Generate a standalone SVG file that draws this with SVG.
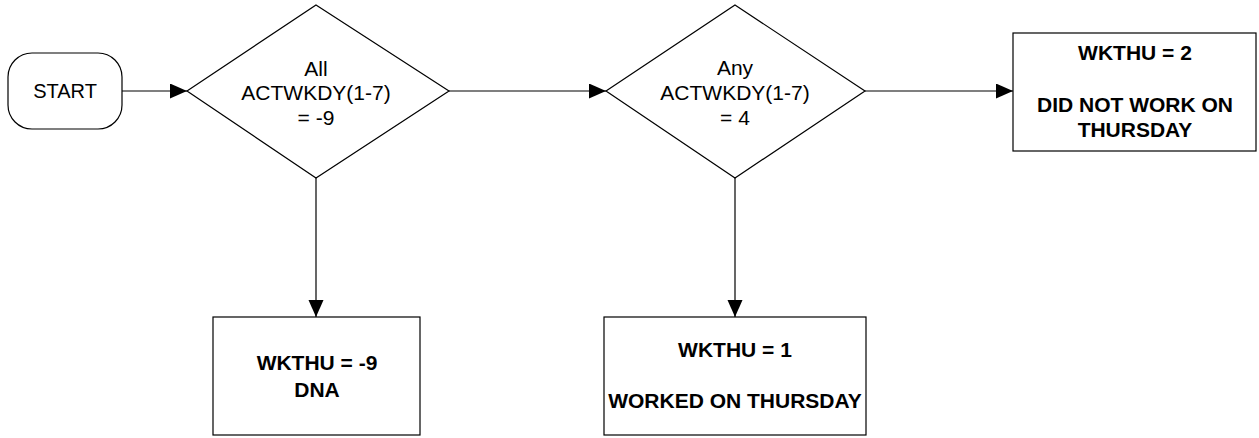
<svg xmlns="http://www.w3.org/2000/svg" width="1259" height="438" viewBox="0 0 1259 438">
<style>
.shape{fill:#fff;stroke:#000;stroke-width:1.2}
.conn{fill:none;stroke:#000;stroke-width:1.2}
.t{font-family:"Liberation Sans",Arial,sans-serif;font-size:21px;fill:#000;text-anchor:middle}
.b{font-weight:bold}
</style>
<defs>
<marker id="arr" markerUnits="userSpaceOnUse" markerWidth="18" markerHeight="16" refX="17" refY="7.5" orient="auto">
<path d="M0,0 L17,7.5 L0,15 Z" fill="#000"/>
</marker>
</defs>
<g id="connectors">
<line class="conn" x1="122" y1="91" x2="187" y2="91" marker-end="url(#arr)"/>
<line class="conn" x1="449" y1="91" x2="606" y2="91" marker-end="url(#arr)"/>
<line class="conn" x1="865" y1="91" x2="1013" y2="91" marker-end="url(#arr)"/>
<line class="conn" x1="316" y1="178" x2="316" y2="317" marker-end="url(#arr)"/>
<line class="conn" x1="735" y1="178" x2="735" y2="317" marker-end="url(#arr)"/>
</g>
<g id="start">
<rect class="shape" x="8" y="53" width="114" height="76" rx="24" ry="24"/>
<text class="t" x="65" y="98" style="font-size:20px">START</text>
</g>
<g id="decision1">
<polygon class="shape" points="316,5 449,91 316,178 187,91"/>
<text class="t" x="316" y="76">All</text>
<text class="t" x="316" y="100">ACTWKDY(1-7)</text>
<text class="t" x="316" y="125">= -9</text>
</g>
<g id="decision2">
<polygon class="shape" points="735,5 865,91 735,178 606,91"/>
<text class="t" x="735" y="75">Any</text>
<text class="t" x="735" y="100">ACTWKDY(1-7)</text>
<text class="t" x="735" y="125">= 4</text>
</g>
<g id="box-notwork">
<rect class="shape" x="1013" y="33" width="243" height="118"/>
<text class="t b" x="1135" y="60">WKTHU = 2</text>
<text class="t b" x="1135" y="112">DID NOT WORK ON</text>
<text class="t b" x="1135" y="137">THURSDAY</text>
</g>
<g id="box-dna">
<rect class="shape" x="213" y="317" width="207" height="118"/>
<text class="t b" x="317" y="370">WKTHU = -9</text>
<text class="t b" x="317" y="397">DNA</text>
</g>
<g id="box-worked">
<rect class="shape" x="604" y="317" width="262" height="118"/>
<text class="t b" x="735" y="357">WKTHU = 1</text>
<text class="t b" x="735" y="408">WORKED ON THURSDAY</text>
</g>
</svg>
